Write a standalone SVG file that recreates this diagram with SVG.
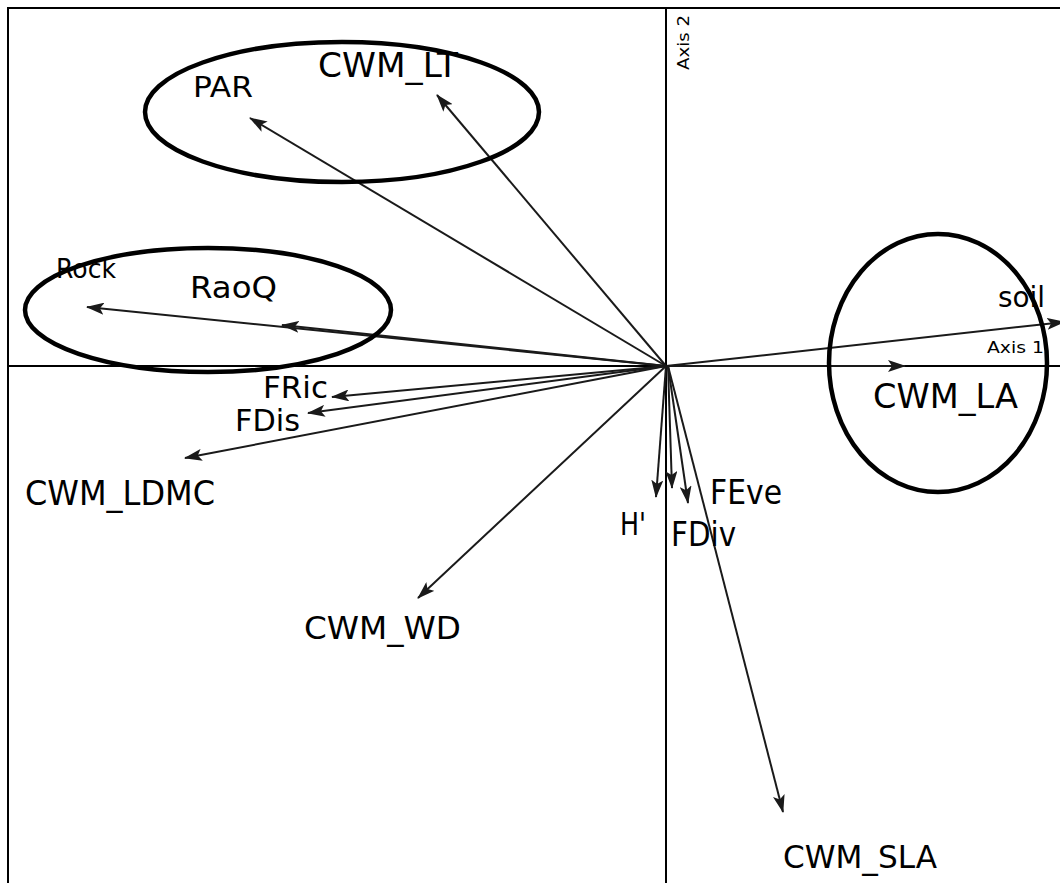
<svg xmlns="http://www.w3.org/2000/svg" width="1060" height="883" viewBox="0 0 1060 883">
<style>
.lbl{font-family:"DejaVu Sans","Liberation Sans",sans-serif;fill:#000;}
.ax{font-family:"DejaVu Sans","Liberation Sans",sans-serif;font-size:16px;fill:#000;}
.vec{stroke:#1a1a1a;stroke-width:2;fill:none;marker-end:url(#ah);}
.ell{fill:none;stroke:#000;stroke-width:4.5;}
.frame{stroke:#000;stroke-width:2;fill:none;}
</style>
<defs>
<marker id="ah" viewBox="0 0 18 12" refX="17" refY="6" markerWidth="18" markerHeight="12" markerUnits="userSpaceOnUse" orient="auto">
<path d="M0,0 L18,6 L0,12 L4,6 Z" fill="#1a1a1a"/>
</marker>
</defs>
<rect width="1060" height="883" fill="#fff"/>
<g id="frame">
<path class="frame" d="M8,883 V8 H1060"/>
<line class="frame" x1="666" y1="8" x2="666" y2="883"/>
<line class="frame" x1="8" y1="366" x2="1060" y2="366"/>
<text class="ax" x="0" y="0" transform="translate(689,70) rotate(-90)" textLength="55" lengthAdjust="spacingAndGlyphs">Axis 2</text>
<text class="ax" x="987" y="353" textLength="57" lengthAdjust="spacingAndGlyphs">Axis 1</text>
</g>
<g id="connectors">
<line class="vec" x1="666" y1="366" x2="1064" y2="322"/>
<line class="vec" x1="666" y1="366" x2="905" y2="366"/>
<line class="vec" x1="666" y1="366" x2="437" y2="95"/>
<line class="vec" x1="666" y1="366" x2="250" y2="118"/>
<line class="vec" x1="666" y1="366" x2="87" y2="307"/>
<line class="vec" x1="666" y1="366" x2="282" y2="325"/>
<line class="vec" x1="666" y1="366" x2="332" y2="397"/>
<line class="vec" x1="666" y1="366" x2="308" y2="413"/>
<line class="vec" x1="666" y1="366" x2="185" y2="458"/>
<line class="vec" x1="666" y1="366" x2="418" y2="598"/>
<line class="vec" x1="666" y1="366" x2="656" y2="497"/>
<line class="vec" x1="668" y1="366" x2="672" y2="488"/>
<line class="vec" x1="668" y1="366" x2="688" y2="503"/>
<line class="vec" x1="668" y1="366" x2="783" y2="812"/>
</g>
<g id="groups">
<ellipse class="ell" cx="342" cy="112" rx="197" ry="70"/>
<ellipse class="ell" cx="208" cy="310" rx="183" ry="62"/>
<ellipse class="ell" cx="938" cy="363" rx="109" ry="129"/>
</g>
<g id="n-PAR"><text class="lbl" x="193" y="97" font-size="28" textLength="60" lengthAdjust="spacingAndGlyphs">PAR</text></g>
<g id="n-CWM_LT"><text class="lbl" x="318" y="77" font-size="34" textLength="140" lengthAdjust="spacingAndGlyphs">CWM_LT</text></g>
<g id="n-Rock"><text class="lbl" x="56" y="278" font-size="26" textLength="60" lengthAdjust="spacingAndGlyphs">Rock</text></g>
<g id="n-RaoQ"><text class="lbl" x="190" y="298" font-size="30" textLength="87" lengthAdjust="spacingAndGlyphs">RaoQ</text></g>
<g id="n-soil"><text class="lbl" x="998" y="307" font-size="28" textLength="47" lengthAdjust="spacingAndGlyphs">soil</text></g>
<g id="n-CWM_LA"><text class="lbl" x="873" y="408" font-size="34" textLength="145" lengthAdjust="spacingAndGlyphs">CWM_LA</text></g>
<g id="n-FRic"><text class="lbl" x="263" y="398" font-size="30" textLength="65" lengthAdjust="spacingAndGlyphs">FRic</text></g>
<g id="n-FDis"><text class="lbl" x="235" y="431" font-size="30" textLength="65" lengthAdjust="spacingAndGlyphs">FDis</text></g>
<g id="n-CWM_LDMC"><text class="lbl" x="25" y="505" font-size="34" textLength="190" lengthAdjust="spacingAndGlyphs">CWM_LDMC</text></g>
<g id="n-H"><text class="lbl" x="620" y="535" font-size="32" textLength="26" lengthAdjust="spacingAndGlyphs">H'</text></g>
<g id="n-FDiv"><text class="lbl" x="671" y="546" font-size="33" textLength="65" lengthAdjust="spacingAndGlyphs">FDiv</text></g>
<g id="n-FEve"><text class="lbl" x="710" y="504" font-size="33" textLength="72" lengthAdjust="spacingAndGlyphs">FEve</text></g>
<g id="n-CWM_WD"><text class="lbl" x="304" y="639" font-size="32" textLength="157" lengthAdjust="spacingAndGlyphs">CWM_WD</text></g>
<g id="n-CWM_SLA"><text class="lbl" x="783" y="868" font-size="32" textLength="154" lengthAdjust="spacingAndGlyphs">CWM_SLA</text></g>
</svg>
